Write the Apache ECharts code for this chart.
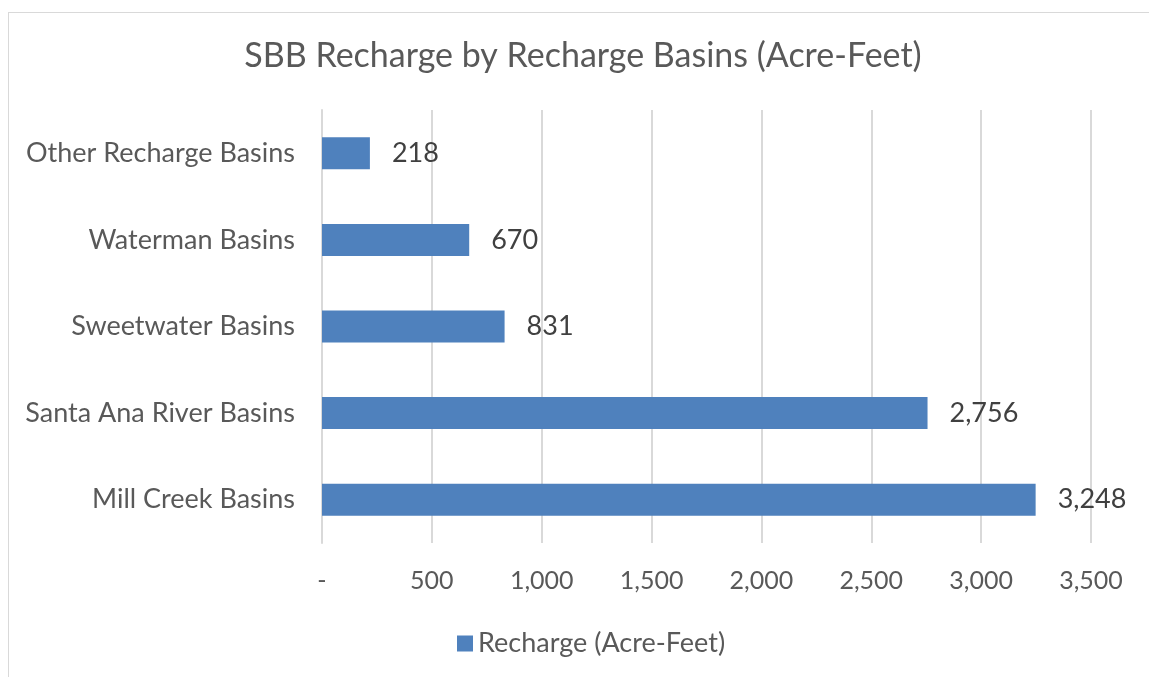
<!DOCTYPE html>
<html>
<head>
<meta charset="utf-8">
<script src="https://cdn.jsdelivr.net/npm/echarts@6/dist/echarts.min.js"></script>
<style>
  html, body { margin: 0; padding: 0; background: #fff; }
  #frame { position: absolute; left: 8px; top: 12px; width: 1160px; height: 700px; border: 1px solid #d9d9d9; box-sizing: border-box; }
  #main { position: absolute; left: 0; top: 0; width: 1149px; height: 677px; }
</style>
</head>
<body>
<div id="frame"></div>
<div id="main"></div>
<script>
  // data (bottom to top, as drawn)
  var basins = ['Mill Creek Basins', 'Santa Ana River Basins', 'Sweetwater Basins', 'Waterman Basins', 'Other Recharge Basins'];
  var recharge = [3248, 2756, 831, 670, 218];
  var seriesName = 'Recharge (Acre-Feet)';
  var titleText = 'SBB Recharge by Recharge Basins (Acre-Feet)';

  var font = 'Lato, "Open Sans", sans-serif';
  var txtColor = '#595959';
  var barColor = '#4f81bd';

  function fmt(v){
    if(v === 0) return '-';
    return v.toString().replace(/\B(?=(\d{3})+(?!\d))/g, ',');
  }

  var chart = echarts.init(document.getElementById('main'));
  var option = {
    animation: false,
    title: {
      text: titleText,
      left: 578,
      textAlign: 'center',
      top: 34,
      textStyle: { fontFamily: font, fontSize: 34, fontWeight: 'normal', color: txtColor }
    },
    legend: {
      data: [seriesName],
      left: 452,
      top: 625,
      itemWidth: 16,
      itemHeight: 16,
      itemGap: 8,
      icon: 'rect',
      textStyle: { fontFamily: font, fontSize: 27, color: txtColor }
    },
    grid: { left: 322, right: 58, top: 110, bottom: 134, containLabel: false },
    xAxis: {
      type: 'value',
      min: 0,
      max: 3500,
      interval: 500,
      axisLine: { show: false },
      axisTick: { show: false },
      splitLine: { show: true, lineStyle: { color: '#d9d9d9', width: 2 } },
      axisLabel: {
        margin: 25,
        formatter: fmt,
        fontFamily: font, fontSize: 25, color: txtColor
      }
    },
    yAxis: {
      type: 'category',
      data: basins,
      axisLine: { show: true, lineStyle: { color: '#d9d9d9', width: 2 } },
      axisTick: { show: false },
      axisLabel: { margin: 27, fontFamily: font, fontSize: 27, color: txtColor }
    },
    series: [{
      name: seriesName,
      type: 'bar',
      data: recharge,
      barWidth: 32,
      itemStyle: { color: barColor },
      label: {
        show: true,
        position: 'right',
        distance: 22,
        formatter: function(p){ return fmt(p.value); },
        fontFamily: font, fontSize: 27, color: '#404040'
      }
    }]
  };
  chart.setOption(option);
</script>
</body>
</html>
